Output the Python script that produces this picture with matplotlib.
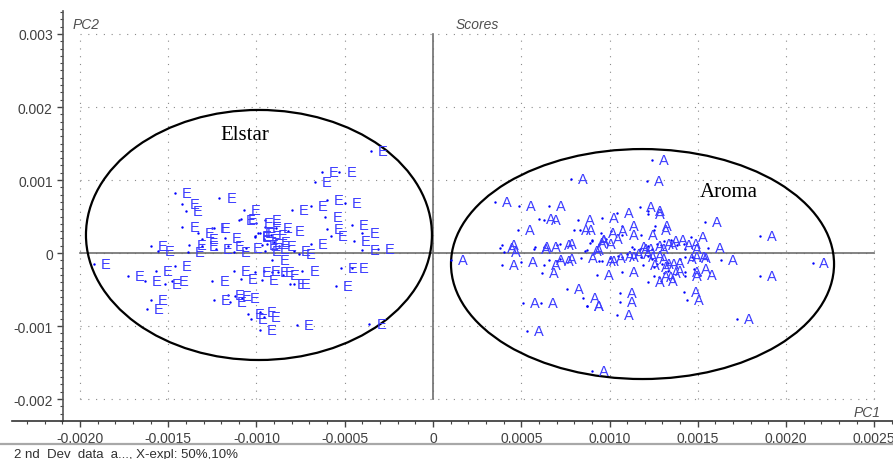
import numpy as np
import matplotlib
matplotlib.use("Agg")
import matplotlib.pyplot as plt
from matplotlib.patches import Ellipse
from matplotlib.ticker import MultipleLocator, FixedLocator
from matplotlib.lines import Line2D

# PCA scores, Elstar samples
elstar_x = [-0.00035, -0.00063, -0.00053, -0.00067, -0.00146, -0.00142, -0.00140, -0.00121, -0.00107, -0.00080,
            -0.00069, -0.00060, -0.00050, -0.00061, -0.00110, -0.00109, -0.00046, -0.00142, -0.00040, -0.00133,
            -0.00124, -0.00099, -0.00101, -0.00089, -0.00082, -0.00058, -0.00060, -0.00045, -0.00069, -0.00040,
            -0.00031, -0.00160, -0.00156, -0.00138, -0.00139, -0.00131, -0.00125, -0.00123, -0.00116, -0.00113,
            -0.00106, -0.00118, -0.00131, -0.00100, -0.00095, -0.00101, -0.00098, -0.00096, -0.00094, -0.00091,
            -0.00095, -0.00091, -0.00079, -0.00076, -0.00192, -0.00173, -0.00163, -0.00157, -0.00152, -0.00148,
            -0.00146, -0.00125, -0.00113, -0.00109, -0.00101, -0.00096, -0.00097, -0.00091, -0.00088, -0.00085,
            -0.00081, -0.00079, -0.00074, -0.00055, -0.00052, -0.00046, -0.00124, -0.00116, -0.00112, -0.00108,
            -0.00115, -0.00162, -0.00160, -0.00105, -0.00103, -0.00098, -0.00077, -0.00036, -0.00098, -0.00096,
            -0.00095, -0.00092, -0.00090, -0.00087, -0.00097]
elstar_y = [0.00140, 0.00111, 0.00111, 0.00097, 0.00082, 0.00067, 0.00058, 0.00075, 0.00059, 0.00059,
            0.00064, 0.00072, 0.00069, 0.00049, 0.00045, 0.00046, 0.00039, 0.00036, 0.00028, 0.00028,
            0.00034, 0.00027, 0.00023, 0.00034, 0.00030, 0.00023, 0.00033, 0.00017, 0.00013, 0.00004,
            0.00005, 0.00009, 0.00003, 0.00011, 0.00002, 0.00010, 0.00034, 0.00006, 0.00010, 0.00002,
            0.00007, 0.00020, 0.00019, 0.00041, 0.00045, 0.00022, 0.00027, 0.00019, 0.00012, 0.00006,
            0.00003, -0.00009, 0.00003, -0.00002, -0.00015, -0.00031, -0.00038, -0.00024, -0.00043, -0.00038,
            -0.00018, -0.00038, -0.00024, -0.00035, -0.00026, -0.00024, -0.00037, -0.00026, -0.00026, -0.00030,
            -0.00042, -0.00042, -0.00024, -0.00045, -0.00021, -0.00020, -0.00064, -0.00058, -0.00059, -0.00061,
            -0.00067, -0.00077, -0.00065, -0.00084, -0.00090, -0.00106, -0.00098, -0.00097, -0.00081, -0.00088,
            0.00036, 0.00025, 0.00015, 0.00010, 0.00011]

# PCA scores, Aroma samples
aroma_x = [0.00010, 0.00078, 0.00035, 0.00049, 0.00066, 0.00060, 0.00063, 0.00082, 0.00048, 0.00080,
           0.00083, 0.00038, 0.00039, 0.00040, 0.00057, 0.00058, 0.00063, 0.00070, 0.00072, 0.00087,
           0.00084, 0.00039, 0.00050, 0.00063, 0.00066, 0.00062, 0.00070, 0.00072, 0.00076, 0.00085,
           0.00087, 0.00051, 0.00061, 0.00053, 0.00124, 0.00121, 0.00117, 0.00122, 0.00096, 0.00104,
           0.00107, 0.00126, 0.00095, 0.00101, 0.00107, 0.00118, 0.00125, 0.00090, 0.00089, 0.00098,
           0.00113, 0.00114, 0.00117, 0.00122, 0.00124, 0.00127, 0.00129, 0.00131, 0.00135, 0.00138,
           0.00142, 0.00146, 0.00143, 0.00094, 0.00096, 0.00100, 0.00105, 0.00107, 0.00110, 0.00115,
           0.00118, 0.00122, 0.00124, 0.00127, 0.00119, 0.00125, 0.00130, 0.00133, 0.00140, 0.00143,
           0.00143, 0.00143, 0.00148, 0.00151, 0.00093, 0.00107, 0.00122, 0.00125, 0.00128, 0.00129,
           0.00131, 0.00133, 0.00106, 0.00106, 0.00104, 0.00142, 0.00144, 0.00090, 0.00087, 0.00154,
           0.00185, 0.00156, 0.00163, 0.00185, 0.00215, 0.00172, 0.00147, 0.00148, 0.00090, 0.00094,
           0.00086, 0.00122]
aroma_y = [-0.00010, 0.00102, 0.00070, 0.00065, 0.00064, 0.00046, 0.00045, 0.00045, 0.00031, 0.00032,
           0.00032, 0.00007, 0.00011, 0.00002, 0.00005, 0.00008, 0.00008, 0.00011, 0.00013, 0.00004,
           -0.00007, -0.00017, -0.00012, -0.00016, -0.00010, -0.00028, -0.00011, -0.00008, -0.00049, -0.00062,
           -0.00073, -0.00068, -0.00068, -0.00107, 0.00128, 0.00098, 0.00063, 0.00058, 0.00048, 0.00055,
           0.00037, 0.00037, 0.00027, 0.00030, 0.00025, 0.00025, 0.00031, 0.00018, 0.00014, 0.00019,
           0.00008, 0.00006, 0.00006, 0.00010, 0.00006, 0.00013, 0.00011, 0.00017, 0.00018, 0.00011,
           0.00012, 0.00022, 0.00006, -0.00011, -0.00011, -0.00007, -0.00004, -0.00006, -0.00001, -0.00001,
           -0.00006, -0.00004, -0.00008, -0.00015, -0.00017, -0.00019, -0.00015, -0.00013, -0.00008, -0.00006,
           -0.00026, -0.00031, -0.00022, -0.00030, -0.00030, -0.00026, -0.00040, -0.00031, -0.00033, -0.00038,
           -0.00027, -0.00024, -0.00055, -0.00067, -0.00085, -0.00053, -0.00064, -0.00162, -0.00072, 0.00042,
           0.00023, 0.00007, -0.00009, -0.00031, -0.00014, -0.00090, -0.00005, -0.00007, 0.00016, 0.00013,
           0.00003, 0.00053]

xticks = [-0.0020, -0.0015, -0.0010, -0.0005, 0.0, 0.0005, 0.0010, 0.0015, 0.0020, 0.0025]
xticklabels = ["-0.0020", "-0.0015", "-0.0010", "-0.0005", "0", "0.0005", "0.0010", "0.0015", "0.0020", "0.0025"]
yticks = [-0.002, -0.001, 0.0, 0.001, 0.002, 0.003]
yticklabels = ["-0.002", "-0.001", "0", "0.001", "0.002", "0.003"]

# group ellipses: centre x, centre y, width, height
elstar_ell = (-0.000986, 0.000247, 0.00196, 0.003425)
aroma_ell = (0.001187, -0.000151, 0.00217, 0.00315)

plt.rcParams['font.family'] = ['Liberation Sans', 'DejaVu Sans']

fig = plt.figure(figsize=(8.93, 4.60), dpi=100)
ax = fig.add_axes([12/893, 38/460, 881/893, 410/460])
ax.set_xlim(-0.002385, 0.002606)
ax.set_ylim(-0.002301, 0.003315)

# dotted grid inside the box
ax.vlines(xticks, yticks[0], yticks[-1], colors='#8a8a8a', linewidth=0.8, linestyles=(0, (1, 6)), zorder=0)
ax.hlines(yticks, xticks[0], xticks[-1], colors='#8a8a8a', linewidth=0.8, linestyles=(0, (1, 6)), zorder=0)
# zero axes
ax.plot([0, 0], [yticks[0], yticks[-1]], color='#6e6e6e', lw=1.2, zorder=1)
ax.plot([xticks[0], xticks[-1]], [0, 0], color='#6e6e6e', lw=1.2, zorder=1)

for e in (elstar_ell, aroma_ell):
    ax.add_patch(Ellipse((e[0], e[1]), e[2], e[3], fill=False, edgecolor='black', lw=1.6, zorder=2))

ax.scatter(elstar_x, elstar_y, s=3, color='#0000ff', linewidths=0, zorder=3)
ax.scatter(aroma_x, aroma_y, s=3, color='#0000ff', linewidths=0, zorder=3)
for x, y in zip(elstar_x, elstar_y):
    ax.annotate("E", (x, y), xytext=(5, 0), textcoords='offset points', ha='left', va='center',
                fontsize=10.5, color='#3c3cff', zorder=3)
for x, y in zip(aroma_x, aroma_y):
    ax.annotate("A", (x, y), xytext=(5, 0), textcoords='offset points', ha='left', va='center',
                fontsize=10.5, color='#3c3cff', zorder=3)

ax.text(-0.001203, 0.001562, "Elstar", family='Liberation Serif', fontsize=15, ha='left', va='baseline')
ax.text(0.001513, 0.000785, "Aroma", family='Liberation Serif', fontsize=15, ha='left', va='baseline')

# spines / ticks
ax.spines['top'].set_visible(False)
ax.spines['right'].set_visible(False)
ax.spines['left'].set_position(('data', -0.002095))
ax.spines['left'].set_color('#555555')
ax.spines['bottom'].set_color('#333333')
ax.spines['left'].set_linewidth(1.2)
ax.spines['bottom'].set_linewidth(1.2)
ax.xaxis.set_major_locator(FixedLocator(xticks))
ax.set_xticklabels(xticklabels)
ax.yaxis.set_major_locator(FixedLocator(yticks))
ax.set_yticklabels(yticklabels)
ax.xaxis.set_minor_locator(MultipleLocator(0.0001))
ax.yaxis.set_minor_locator(MultipleLocator(0.0001))
ax.tick_params(which='major', length=4.5, width=1, color='#444444', labelsize=10, labelcolor='#404040', pad=3)
ax.tick_params(which='minor', length=2.2, width=0.8, color='#444444')

fig.text(73/893, 1 - 29/460, "PC2", fontsize=10, style='italic', color='#505050', va='baseline')
fig.text(456/893, 1 - 29/460, "Scores", fontsize=10, style='italic', color='#505050', va='baseline')
fig.text(881/893, 1 - 417/460, "PC1", fontsize=10, style='italic', color='#505050', ha='right', va='baseline')

fig.add_artist(Line2D([0, 1], [1 - 445/460, 1 - 445/460], transform=fig.transFigure, color='#a8a8a8', lw=1.6))
fig.text(14/893, 1 - 458/460, "2 nd  Dev  data  a..., X-expl: 50%,10%", fontsize=9.5, color='#303030', va='baseline')

fig.savefig("out.png", dpi=100)
